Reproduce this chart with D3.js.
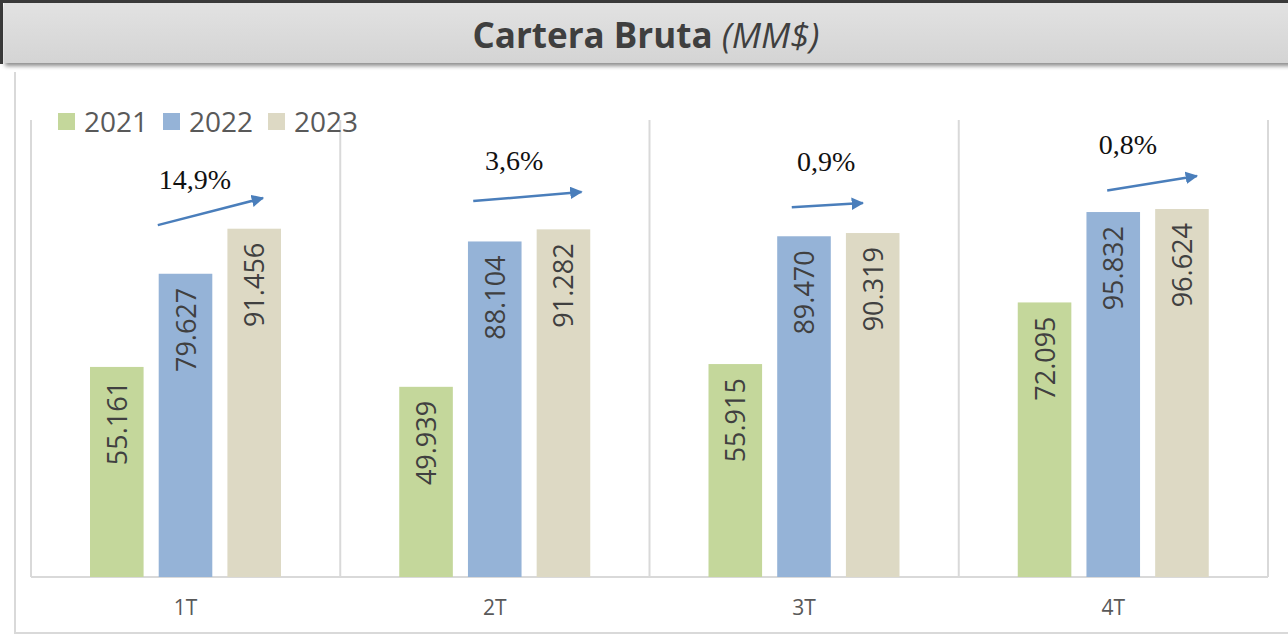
<!DOCTYPE html>
<html lang="es">
<head>
<meta charset="utf-8">
<title>Cartera Bruta</title>
<script src="https://cdn.jsdelivr.net/npm/d3@7"></script>
<style>
  body { margin: 0; background: #fff; }
  svg { display: block; }
</style>
</head>
<body>
<script>
// data
var categories = ["1T", "2T", "3T", "4T"];
var series = ["2021", "2022", "2023"];
var v2021 = [55.161, 49.939, 55.915, 72.095];
var v2022 = [79.627, 88.104, 89.470, 95.832];
var v2023 = [91.456, 91.282, 90.319, 96.624];
var growth = ["14,9%", "3,6%", "0,9%", "0,8%"];
// arrow annotations: start/end in value units, x as fraction of the category band
var arrowX0 = [0.41, 0.43, 0.46, 0.48];
var arrowX1 = [0.75, 0.78, 0.69, 0.77];
var arrowY0 = [92.4, 98.7, 97.1, 101.5];
var arrowY1 = [99.5, 101.1, 98.2, 105.3];
var labelY = [102.0, 106.9, 106.5, 111.0];
var labelX = [0.53, 0.562, 0.571, 0.547];

var colors = { "2021": "#c4d79b", "2022": "#95b3d7", "2023": "#ddd9c4" };
var values = { "2021": v2021, "2022": v2022, "2023": v2023 };

var w = 1288, h = 635;
var svg = d3.select("body").append("svg").attr("width", w).attr("height", h);

var defs = svg.append("defs");
var grad = defs.append("linearGradient").attr("id", "tbar").attr("x1", 0).attr("y1", 0).attr("x2", 0).attr("y2", 1);
grad.append("stop").attr("offset", "0%").attr("stop-color", "#e2e2e2");
grad.append("stop").attr("offset", "100%").attr("stop-color", "#d4d4d4");
var sh = defs.append("filter").attr("id", "shadow").attr("x", "-5%").attr("y", "-20%").attr("width", "110%").attr("height", "160%");
sh.append("feDropShadow").attr("dx", 1).attr("dy", 3).attr("stdDeviation", 2).attr("flood-color", "#000").attr("flood-opacity", 0.45);
defs.append("marker").attr("id", "arrow").attr("viewBox", "0 0 10 10")
  .attr("refX", 9).attr("refY", 5).attr("markerWidth", 5).attr("markerHeight", 5)
  .attr("orient", "auto")
  .append("path").attr("d", "M0,0 L10,5 L0,10 z").attr("fill", "#4a7ebb");

// page frame
svg.append("rect").attr("x", 0).attr("y", 0).attr("width", w).attr("height", 3).attr("fill", "#3a3a3a");
svg.append("rect").attr("x", 0).attr("y", 0).attr("width", 3).attr("height", 64).attr("fill", "#3a3a3a");

// title bar
svg.append("rect").attr("x", 4).attr("y", 3).attr("width", w).attr("height", 60)
  .attr("fill", "url(#tbar)").attr("filter", "url(#shadow)");
var title = svg.append("text").attr("x", 646).attr("y", 48).attr("text-anchor", "middle")
  .attr("font-family", "'Open Sans', sans-serif").attr("font-size", 35).attr("fill", "#3f3f3f");
title.append("tspan").attr("font-weight", "bold").text("Cartera Bruta ");
title.append("tspan").attr("font-style", "italic").text("(MM$)");

// chart panel
svg.append("path").attr("d", "M15,72 L15,633 L1288,633").attr("fill", "none")
  .attr("stroke", "#d9d9d9").attr("stroke-width", 2);

var plotTop = 120, plotBottom = 577;
var x0 = d3.scaleBand().domain(categories).range([31, 1268]);
var x1 = d3.scaleBand().domain(series).range([59, 250]).paddingInner(0.22);
var y = d3.scaleLinear().domain([0, 120]).range([plotBottom, plotTop]);

// vertical separators
svg.append("g").selectAll("line")
  .data(d3.range(categories.length + 1))
  .join("line")
  .attr("x1", function(i) { return i < categories.length ? x0(categories[i]) : x0.range()[1]; })
  .attr("x2", function(i) { return i < categories.length ? x0(categories[i]) : x0.range()[1]; })
  .attr("y1", plotTop).attr("y2", plotBottom)
  .attr("stroke", "#d9d9d9").attr("stroke-width", 2);

// baseline
svg.append("line").attr("x1", x0.range()[0]).attr("x2", x0.range()[1])
  .attr("y1", plotBottom).attr("y2", plotBottom)
  .attr("stroke", "#d9d9d9").attr("stroke-width", 2);

// bars
var groups = svg.append("g").selectAll("g")
  .data(categories)
  .join("g")
  .attr("transform", function(c) { return "translate(" + x0(c) + ",0)"; });

var bars = groups.selectAll("g")
  .data(function(c, i) { return series.map(function(s) { return { s: s, v: values[s][i] }; }); })
  .join("g");

bars.append("rect")
  .attr("x", function(d) { return x1(d.s); })
  .attr("y", function(d) { return y(d.v); })
  .attr("width", x1.bandwidth())
  .attr("height", function(d) { return plotBottom - y(d.v); })
  .attr("fill", function(d) { return colors[d.s]; });

bars.append("text")
  .attr("transform", function(d) {
    return "translate(" + (x1(d.s) + x1.bandwidth() / 2 + 10) + "," + (y(d.v) + 14) + ") rotate(-90)";
  })
  .attr("text-anchor", "end")
  .attr("font-family", "'Open Sans', sans-serif").attr("font-size", 27)
  .attr("fill", "#404040")
  .text(function(d) { return d3.format(".3f")(d.v); });

// category labels
svg.append("g").selectAll("text")
  .data(categories)
  .join("text")
  .attr("x", function(c) { return x0(c) + x0.bandwidth() / 2; })
  .attr("y", 615)
  .attr("text-anchor", "middle")
  .attr("font-family", "'Open Sans', sans-serif").attr("font-size", 21)
  .attr("fill", "#595959")
  .text(function(c) { return c; });

// growth arrows
var ann = svg.append("g").selectAll("g").data(categories).join("g");
ann.append("line")
  .attr("x1", function(c, i) { return x0(c) + arrowX0[i] * x0.bandwidth(); })
  .attr("x2", function(c, i) { return x0(c) + arrowX1[i] * x0.bandwidth(); })
  .attr("y1", function(c, i) { return y(arrowY0[i]); })
  .attr("y2", function(c, i) { return y(arrowY1[i]); })
  .attr("stroke", "#4a7ebb").attr("stroke-width", 2.5)
  .attr("marker-end", "url(#arrow)");
ann.append("text")
  .attr("x", function(c, i) { return x0(c) + labelX[i] * x0.bandwidth(); })
  .attr("y", function(c, i) { return y(labelY[i]); })
  .attr("text-anchor", "middle")
  .attr("font-family", "'Liberation Serif', 'Times New Roman', serif").attr("font-size", 28)
  .attr("fill", "#111")
  .text(function(c, i) { return growth[i]; });

// legend
var legX = [58, 163, 268];
var leg = svg.append("g").selectAll("g").data(series).join("g")
  .attr("transform", function(s, i) { return "translate(" + legX[i] + ",113)"; });
leg.append("rect").attr("width", 17).attr("height", 17).attr("fill", function(s) { return colors[s]; });
leg.append("text").attr("x", 26).attr("y", 19)
  .attr("font-family", "'Open Sans', sans-serif").attr("font-size", 28)
  .attr("fill", "#595959")
  .text(function(s) { return s; });
</script>
</body>
</html>
